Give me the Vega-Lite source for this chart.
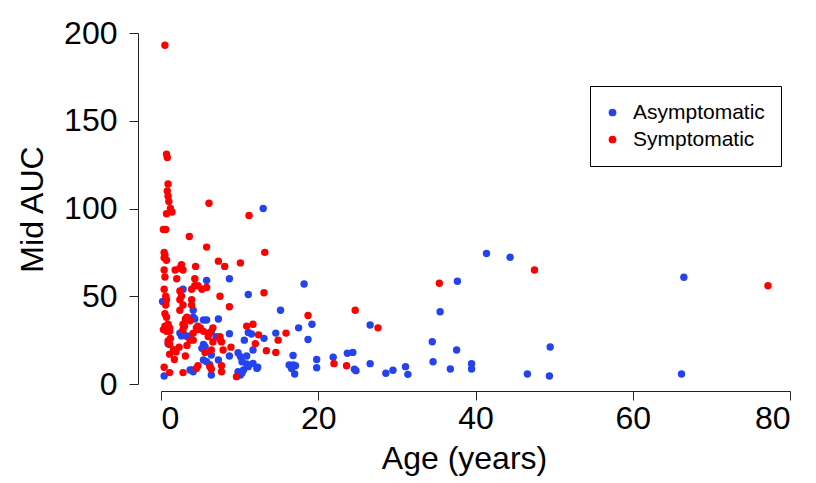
{
  "$schema": "https://vega.github.io/schema/vega-lite/v6.json",
  "autosize": "none",
  "width": 629,
  "height": 351,
  "padding": {"left": 161, "top": 33, "right": 26, "bottom": 99},
  "background": "white",
  "config": {
    "view": {"stroke": null},
    "font": "Liberation Sans"
  },
  "data": {
    "values": [
      {"age": 13.0, "auc": 100, "group": "Asymptomatic"},
      {"age": 8.7, "auc": 60, "group": "Asymptomatic"},
      {"age": 5.8, "auc": 59, "group": "Asymptomatic"},
      {"age": 18.2, "auc": 57, "group": "Asymptomatic"},
      {"age": 11.1, "auc": 51, "group": "Asymptomatic"},
      {"age": 15.2, "auc": 42, "group": "Asymptomatic"},
      {"age": 19.2, "auc": 34, "group": "Asymptomatic"},
      {"age": 17.5, "auc": 32, "group": "Asymptomatic"},
      {"age": 11.1, "auc": 29.4, "group": "Asymptomatic"},
      {"age": 11.5, "auc": 28.5, "group": "Asymptomatic"},
      {"age": 14.6, "auc": 29, "group": "Asymptomatic"},
      {"age": 8.7, "auc": 28.6, "group": "Asymptomatic"},
      {"age": 13.1, "auc": 26, "group": "Asymptomatic"},
      {"age": 10.6, "auc": 25, "group": "Asymptomatic"},
      {"age": 18.7, "auc": 25.4, "group": "Asymptomatic"},
      {"age": 11.7, "auc": 19.4, "group": "Asymptomatic"},
      {"age": 8.7, "auc": 16, "group": "Asymptomatic"},
      {"age": 9.8, "auc": 17.8, "group": "Asymptomatic"},
      {"age": 10.1, "auc": 15.6, "group": "Asymptomatic"},
      {"age": 10.9, "auc": 16, "group": "Asymptomatic"},
      {"age": 16.8, "auc": 16.2, "group": "Asymptomatic"},
      {"age": 19.8, "auc": 14, "group": "Asymptomatic"},
      {"age": 19.8, "auc": 9.3, "group": "Asymptomatic"},
      {"age": 10.3, "auc": 12.7, "group": "Asymptomatic"},
      {"age": 10.9, "auc": 11.4, "group": "Asymptomatic"},
      {"age": 11.7, "auc": 11.7, "group": "Asymptomatic"},
      {"age": 16.3, "auc": 10.8, "group": "Asymptomatic"},
      {"age": 16.8, "auc": 10.8, "group": "Asymptomatic"},
      {"age": 17.1, "auc": 10.4, "group": "Asymptomatic"},
      {"age": 16.6, "auc": 8.9, "group": "Asymptomatic"},
      {"age": 17.0, "auc": 5.7, "group": "Asymptomatic"},
      {"age": 12.3, "auc": 9.5, "group": "Asymptomatic"},
      {"age": 11.1, "auc": 9.9, "group": "Asymptomatic"},
      {"age": 10.5, "auc": 8, "group": "Asymptomatic"},
      {"age": 9.8, "auc": 7, "group": "Asymptomatic"},
      {"age": 10.3, "auc": 6.2, "group": "Asymptomatic"},
      {"age": 10.1, "auc": 5.1, "group": "Asymptomatic"},
      {"age": 12.2, "auc": 8.9, "group": "Asymptomatic"},
      {"age": 2.8, "auc": 54, "group": "Asymptomatic"},
      {"age": 0.2, "auc": 47, "group": "Asymptomatic"},
      {"age": 4.1, "auc": 42, "group": "Asymptomatic"},
      {"age": 4.1, "auc": 38, "group": "Asymptomatic"},
      {"age": 4.3, "auc": 37, "group": "Asymptomatic"},
      {"age": 5.4, "auc": 36.5, "group": "Asymptomatic"},
      {"age": 5.8, "auc": 36.5, "group": "Asymptomatic"},
      {"age": 7.3, "auc": 37, "group": "Asymptomatic"},
      {"age": 2.4, "auc": 29, "group": "Asymptomatic"},
      {"age": 2.6, "auc": 27.4, "group": "Asymptomatic"},
      {"age": 3.0, "auc": 28, "group": "Asymptomatic"},
      {"age": 3.3, "auc": 27, "group": "Asymptomatic"},
      {"age": 3.7, "auc": 27.4, "group": "Asymptomatic"},
      {"age": 6.4, "auc": 30, "group": "Asymptomatic"},
      {"age": 6.1, "auc": 29, "group": "Asymptomatic"},
      {"age": 7.0, "auc": 27, "group": "Asymptomatic"},
      {"age": 5.4, "auc": 22.6, "group": "Asymptomatic"},
      {"age": 5.6, "auc": 21.3, "group": "Asymptomatic"},
      {"age": 5.2, "auc": 20.3, "group": "Asymptomatic"},
      {"age": 6.4, "auc": 16.5, "group": "Asymptomatic"},
      {"age": 0.9, "auc": 23, "group": "Asymptomatic"},
      {"age": 7.3, "auc": 13.7, "group": "Asymptomatic"},
      {"age": 5.4, "auc": 13.7, "group": "Asymptomatic"},
      {"age": 5.8, "auc": 12.7, "group": "Asymptomatic"},
      {"age": 6.2, "auc": 11, "group": "Asymptomatic"},
      {"age": 3.9, "auc": 8, "group": "Asymptomatic"},
      {"age": 4.1, "auc": 7, "group": "Asymptomatic"},
      {"age": 3.7, "auc": 8, "group": "Asymptomatic"},
      {"age": 0.4, "auc": 4.6, "group": "Asymptomatic"},
      {"age": 6.4, "auc": 5.1, "group": "Asymptomatic"},
      {"age": 24.4, "auc": 18, "group": "Asymptomatic"},
      {"age": 23.7, "auc": 17.5, "group": "Asymptomatic"},
      {"age": 21.9, "auc": 15.2, "group": "Asymptomatic"},
      {"age": 26.6, "auc": 33.6, "group": "Asymptomatic"},
      {"age": 26.6, "auc": 11.6, "group": "Asymptomatic"},
      {"age": 24.6, "auc": 8.4, "group": "Asymptomatic"},
      {"age": 24.8, "auc": 7.6, "group": "Asymptomatic"},
      {"age": 28.6, "auc": 6.1, "group": "Asymptomatic"},
      {"age": 29.5, "auc": 7.8, "group": "Asymptomatic"},
      {"age": 31.1, "auc": 9.9, "group": "Asymptomatic"},
      {"age": 31.4, "auc": 5.5, "group": "Asymptomatic"},
      {"age": 34.5, "auc": 24.1, "group": "Asymptomatic"},
      {"age": 34.6, "auc": 12.7, "group": "Asymptomatic"},
      {"age": 35.5, "auc": 41.2, "group": "Asymptomatic"},
      {"age": 37.6, "auc": 19.4, "group": "Asymptomatic"},
      {"age": 36.8, "auc": 8.5, "group": "Asymptomatic"},
      {"age": 37.7, "auc": 58.5, "group": "Asymptomatic"},
      {"age": 39.5, "auc": 11.6, "group": "Asymptomatic"},
      {"age": 39.5, "auc": 8.5, "group": "Asymptomatic"},
      {"age": 41.4, "auc": 74.4, "group": "Asymptomatic"},
      {"age": 44.4, "auc": 72.2, "group": "Asymptomatic"},
      {"age": 46.6, "auc": 5.7, "group": "Asymptomatic"},
      {"age": 49.4, "auc": 4.6, "group": "Asymptomatic"},
      {"age": 49.5, "auc": 21.1, "group": "Asymptomatic"},
      {"age": 66.5, "auc": 60.8, "group": "Asymptomatic"},
      {"age": 66.2, "auc": 5.7, "group": "Asymptomatic"},
      {"age": 0.5, "auc": 193, "group": "Symptomatic"},
      {"age": 0.7, "auc": 131, "group": "Symptomatic"},
      {"age": 0.8, "auc": 129, "group": "Symptomatic"},
      {"age": 0.9, "auc": 114, "group": "Symptomatic"},
      {"age": 0.8, "auc": 110, "group": "Symptomatic"},
      {"age": 0.9, "auc": 107, "group": "Symptomatic"},
      {"age": 1.0, "auc": 104, "group": "Symptomatic"},
      {"age": 1.2, "auc": 100, "group": "Symptomatic"},
      {"age": 0.7, "auc": 97, "group": "Symptomatic"},
      {"age": 1.4, "auc": 98, "group": "Symptomatic"},
      {"age": 0.3, "auc": 88, "group": "Symptomatic"},
      {"age": 0.6, "auc": 88, "group": "Symptomatic"},
      {"age": 6.1, "auc": 103, "group": "Symptomatic"},
      {"age": 11.2, "auc": 96, "group": "Symptomatic"},
      {"age": 3.6, "auc": 84, "group": "Symptomatic"},
      {"age": 5.8, "auc": 78, "group": "Symptomatic"},
      {"age": 13.2, "auc": 75, "group": "Symptomatic"},
      {"age": 0.4, "auc": 75, "group": "Symptomatic"},
      {"age": 0.5, "auc": 73.5, "group": "Symptomatic"},
      {"age": 0.4, "auc": 72, "group": "Symptomatic"},
      {"age": 0.7, "auc": 70.5, "group": "Symptomatic"},
      {"age": 7.3, "auc": 70, "group": "Symptomatic"},
      {"age": 8.1, "auc": 67, "group": "Symptomatic"},
      {"age": 10.1, "auc": 69, "group": "Symptomatic"},
      {"age": 4.4, "auc": 67, "group": "Symptomatic"},
      {"age": 0.4, "auc": 65, "group": "Symptomatic"},
      {"age": 1.8, "auc": 65, "group": "Symptomatic"},
      {"age": 2.6, "auc": 68, "group": "Symptomatic"},
      {"age": 2.8, "auc": 65, "group": "Symptomatic"},
      {"age": 2.4, "auc": 66, "group": "Symptomatic"},
      {"age": 0.5, "auc": 61, "group": "Symptomatic"},
      {"age": 2.0, "auc": 60, "group": "Symptomatic"},
      {"age": 4.3, "auc": 60, "group": "Symptomatic"},
      {"age": 3.9, "auc": 54, "group": "Symptomatic"},
      {"age": 4.3, "auc": 56, "group": "Symptomatic"},
      {"age": 4.7, "auc": 56, "group": "Symptomatic"},
      {"age": 5.2, "auc": 54, "group": "Symptomatic"},
      {"age": 5.8, "auc": 55, "group": "Symptomatic"},
      {"age": 0.4, "auc": 54, "group": "Symptomatic"},
      {"age": 0.6, "auc": 50, "group": "Symptomatic"},
      {"age": 0.7, "auc": 48, "group": "Symptomatic"},
      {"age": 0.6, "auc": 45, "group": "Symptomatic"},
      {"age": 0.5, "auc": 40, "group": "Symptomatic"},
      {"age": 0.7, "auc": 38, "group": "Symptomatic"},
      {"age": 2.4, "auc": 53, "group": "Symptomatic"},
      {"age": 2.6, "auc": 50, "group": "Symptomatic"},
      {"age": 2.4, "auc": 48, "group": "Symptomatic"},
      {"age": 2.8, "auc": 45, "group": "Symptomatic"},
      {"age": 2.4, "auc": 42, "group": "Symptomatic"},
      {"age": 3.9, "auc": 48, "group": "Symptomatic"},
      {"age": 3.9, "auc": 45, "group": "Symptomatic"},
      {"age": 7.5, "auc": 50, "group": "Symptomatic"},
      {"age": 8.7, "auc": 44, "group": "Symptomatic"},
      {"age": 13.1, "auc": 52, "group": "Symptomatic"},
      {"age": 3.3, "auc": 38, "group": "Symptomatic"},
      {"age": 3.7, "auc": 36, "group": "Symptomatic"},
      {"age": 3.1, "auc": 37, "group": "Symptomatic"},
      {"age": 4.7, "auc": 33, "group": "Symptomatic"},
      {"age": 4.5, "auc": 32, "group": "Symptomatic"},
      {"age": 0.5, "auc": 33, "group": "Symptomatic"},
      {"age": 0.9, "auc": 34, "group": "Symptomatic"},
      {"age": 1.1, "auc": 32, "group": "Symptomatic"},
      {"age": 0.7, "auc": 30, "group": "Symptomatic"},
      {"age": 1.1, "auc": 30, "group": "Symptomatic"},
      {"age": 0.3, "auc": 31, "group": "Symptomatic"},
      {"age": 2.8, "auc": 34, "group": "Symptomatic"},
      {"age": 3.0, "auc": 33, "group": "Symptomatic"},
      {"age": 2.8, "auc": 31, "group": "Symptomatic"},
      {"age": 4.1, "auc": 29, "group": "Symptomatic"},
      {"age": 4.7, "auc": 31, "group": "Symptomatic"},
      {"age": 5.0, "auc": 32, "group": "Symptomatic"},
      {"age": 5.4, "auc": 30, "group": "Symptomatic"},
      {"age": 6.2, "auc": 29, "group": "Symptomatic"},
      {"age": 6.0, "auc": 27, "group": "Symptomatic"},
      {"age": 6.6, "auc": 32, "group": "Symptomatic"},
      {"age": 7.5, "auc": 27, "group": "Symptomatic"},
      {"age": 7.7, "auc": 24, "group": "Symptomatic"},
      {"age": 7.5, "auc": 25.5, "group": "Symptomatic"},
      {"age": 10.9, "auc": 33, "group": "Symptomatic"},
      {"age": 11.7, "auc": 34, "group": "Symptomatic"},
      {"age": 12.4, "auc": 28, "group": "Symptomatic"},
      {"age": 12.0, "auc": 23, "group": "Symptomatic"},
      {"age": 14.9, "auc": 25, "group": "Symptomatic"},
      {"age": 8.9, "auc": 21, "group": "Symptomatic"},
      {"age": 13.4, "auc": 19, "group": "Symptomatic"},
      {"age": 14.6, "auc": 18, "group": "Symptomatic"},
      {"age": 1.1, "auc": 17, "group": "Symptomatic"},
      {"age": 1.7, "auc": 14, "group": "Symptomatic"},
      {"age": 3.1, "auc": 16, "group": "Symptomatic"},
      {"age": 6.6, "auc": 24, "group": "Symptomatic"},
      {"age": 5.6, "auc": 18, "group": "Symptomatic"},
      {"age": 2.3, "auc": 21, "group": "Symptomatic"},
      {"age": 0.9, "auc": 24.5, "group": "Symptomatic"},
      {"age": 1.2, "auc": 26, "group": "Symptomatic"},
      {"age": 1.1, "auc": 22.5, "group": "Symptomatic"},
      {"age": 1.6, "auc": 19.5, "group": "Symptomatic"},
      {"age": 1.9, "auc": 18.3, "group": "Symptomatic"},
      {"age": 4.1, "auc": 25, "group": "Symptomatic"},
      {"age": 3.7, "auc": 25, "group": "Symptomatic"},
      {"age": 6.4, "auc": 19.4, "group": "Symptomatic"},
      {"age": 7.9, "auc": 19.4, "group": "Symptomatic"},
      {"age": 3.3, "auc": 22, "group": "Symptomatic"},
      {"age": 6.2, "auc": 10, "group": "Symptomatic"},
      {"age": 6.4, "auc": 8.5, "group": "Symptomatic"},
      {"age": 7.7, "auc": 10.4, "group": "Symptomatic"},
      {"age": 7.7, "auc": 7, "group": "Symptomatic"},
      {"age": 4.7, "auc": 10.4, "group": "Symptomatic"},
      {"age": 4.5, "auc": 8.9, "group": "Symptomatic"},
      {"age": 2.8, "auc": 6.5, "group": "Symptomatic"},
      {"age": 0.4, "auc": 9.5, "group": "Symptomatic"},
      {"age": 1.1, "auc": 6.5, "group": "Symptomatic"},
      {"age": 9.6, "auc": 4.2, "group": "Symptomatic"},
      {"age": 15.9, "auc": 29, "group": "Symptomatic"},
      {"age": 18.7, "auc": 39, "group": "Symptomatic"},
      {"age": 24.7, "auc": 42, "group": "Symptomatic"},
      {"age": 27.6, "auc": 32, "group": "Symptomatic"},
      {"age": 22.0, "auc": 11.6, "group": "Symptomatic"},
      {"age": 23.6, "auc": 10.4, "group": "Symptomatic"},
      {"age": 35.4, "auc": 57.4, "group": "Symptomatic"},
      {"age": 47.5, "auc": 65, "group": "Symptomatic"},
      {"age": 77.2, "auc": 56, "group": "Symptomatic"}
    ]
  },
  "mark": {"type": "point", "filled": true, "size": 55, "opacity": 1, "shape": "circle"},
  "encoding": {
    "x": {
      "field": "age",
      "type": "quantitative",
      "scale": {"domain": [0, 80], "nice": false, "zero": false},
      "axis": {
        "title": "Age (years)",
        "values": [0, 20, 40, 60, 80],
        "offset": 7,
        "grid": false,
        "domainColor": "#222222",
        "tickColor": "#222222",
        "tickSize": 9,
        "labelPadding": 3,
        "labelFontSize": 32,
        "labelColor": "black",
        "labelFont": "Liberation Sans",
        "titleFont": "Liberation Sans",
        "titleFontSize": 32,
        "titleFontWeight": "normal",
        "titleColor": "black",
        "titleBaseline": "alphabetic",
        "titleX": 303,
        "titleY": 77
      }
    },
    "y": {
      "field": "auc",
      "type": "quantitative",
      "scale": {"domain": [0, 200], "nice": false, "zero": false},
      "axis": {
        "title": "Mid AUC",
        "values": [0, 50, 100, 150, 200],
        "offset": 23,
        "grid": false,
        "domainColor": "#222222",
        "tickColor": "#222222",
        "tickSize": 9,
        "labelPadding": 12,
        "labelFontSize": 32,
        "labelColor": "black",
        "labelFont": "Liberation Sans",
        "titleFont": "Liberation Sans",
        "titleFontSize": 32,
        "titleFontWeight": "normal",
        "titleColor": "black",
        "titleBaseline": "alphabetic",
        "titleX": -96,
        "titleY": 176
      }
    },
    "color": {
      "field": "group",
      "type": "nominal",
      "scale": {"domain": ["Asymptomatic", "Symptomatic"], "range": ["#2443ee", "#ff0000"]},
      "legend": {
        "title": null,
        "orient": "none",
        "legendX": 429,
        "legendY": 53,
        "strokeColor": "black",
        "padding": 16,
        "symbolType": "circle",
        "symbolSize": 60,
        "symbolStrokeWidth": 0,
        "symbolOffset": -4,
        "labelFontSize": 21,
        "labelFont": "Liberation Sans",
        "labelColor": "black",
        "labelOffset": 10,
        "rowPadding": 5
      }
    }
  }
}
